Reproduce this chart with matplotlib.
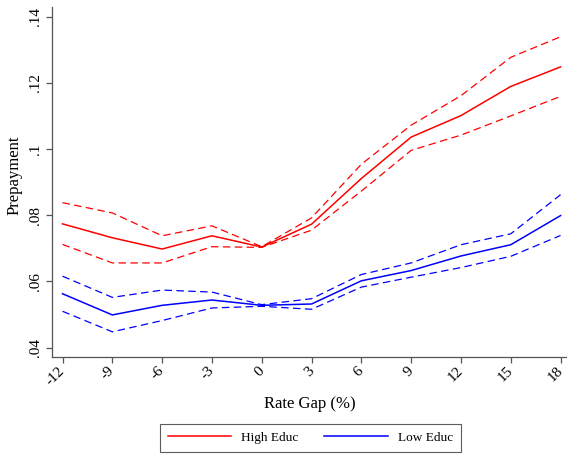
import matplotlib
matplotlib.use('Agg')
import matplotlib.pyplot as plt
import matplotlib.transforms as mtrans
from matplotlib.lines import Line2D

# rate gap buckets
gap = [-12, -9, -6, -3, 0, 3, 6, 9, 12, 15, 18]

# high education: point estimate and 95% band
high = [0.0774, 0.0732, 0.0698, 0.0738, 0.0704, 0.0773, 0.0911, 0.1036, 0.1101, 0.1189, 0.1248]
high_up = [0.0838, 0.0807, 0.0738, 0.0768, 0.0705, 0.0792, 0.0954, 0.1072, 0.1161, 0.1277, 0.1339]
high_lo = [0.0712, 0.0656, 0.0656, 0.0705, 0.0703, 0.0755, 0.0873, 0.0996, 0.1042, 0.1100, 0.1159]

# low education
low = [0.0563, 0.0499, 0.0528, 0.0544, 0.0528, 0.0532, 0.0602, 0.0633, 0.0677, 0.0711, 0.0799]
low_up = [0.0616, 0.0552, 0.0574, 0.0568, 0.0530, 0.0548, 0.0621, 0.0656, 0.0711, 0.0744, 0.0862]
low_lo = [0.0510, 0.0448, 0.0482, 0.0520, 0.0525, 0.0516, 0.0583, 0.0613, 0.0642, 0.0676, 0.0739]

yticks = [0.04, 0.06, 0.08, 0.10, 0.12, 0.14]
ylabels = ['.04', '.06', '.08', '.1', '.12', '.14']

plt.rcParams['font.family'] = ['Liberation Serif', 'DejaVu Serif']

fig = plt.figure(figsize=(5.67, 4.55), dpi=100)
ax = fig.add_axes([0.0912, 0.2147, 0.9083, 0.77])

red = '#ff0000'
blue = '#0000ff'
dash = (0, (6, 3.5))
lw = 1.1

ax.plot(gap, high, color=red, lw=lw)
ax.plot(gap, high_up, color=red, lw=0.9, linestyle=dash)
ax.plot(gap, high_lo, color=red, lw=0.9, linestyle=dash)
ax.plot(gap, low, color=blue, lw=lw)
ax.plot(gap, low_up, color=blue, lw=0.9, linestyle=dash)
ax.plot(gap, low_lo, color=blue, lw=0.9, linestyle=dash)

ax.set_xlim(-12.65, 18.37)
ax.set_ylim(0.0371, 0.1429)
ax.set_xticks(gap)
ax.set_xticklabels([])
# rotated x labels, ending just under each tick like Stata draws them
shift = mtrans.ScaledTranslation(-0.045, -0.07, fig.dpi_scale_trans)
for g in gap:
    ax.text(g, 0, str(g), transform=ax.get_xaxis_transform() + shift,
            rotation=45, ha='right', va='top', rotation_mode='anchor',
            fontsize=11)
ax.set_yticks(yticks)
ax.set_yticklabels(ylabels, rotation=90, va='center', fontsize=11)

for side in ['top', 'right']:
    ax.spines[side].set_visible(False)
for side in ['left', 'bottom']:
    ax.spines[side].set_color('#555555')
    ax.spines[side].set_linewidth(0.9)
ax.tick_params(color='#555555', length=4, width=0.9, pad=3)

ax.set_xlabel('Rate Gap (%)', fontsize=12)
ax.xaxis.set_label_coords(0.502, -0.11)
ax.set_ylabel('Prepayment', fontsize=12)
ax.yaxis.set_label_coords(-0.056, 0.52)

handles = [Line2D([], [], color=red, lw=lw), Line2D([], [], color=blue, lw=lw)]
leg = fig.legend(handles, ['High Educ', 'Low Educ'], loc='center',
                 bbox_to_anchor=(0.547, 0.0374), ncol=2, fontsize=9.5,
                 frameon=True, fancybox=False, handlelength=4.8,
                 handletextpad=0.75, columnspacing=2.0, borderpad=0.6,
                 borderaxespad=0)
leg.get_frame().set_edgecolor('#333333')
leg.get_frame().set_linewidth(0.8)

fig.savefig('out.png', dpi=100)
